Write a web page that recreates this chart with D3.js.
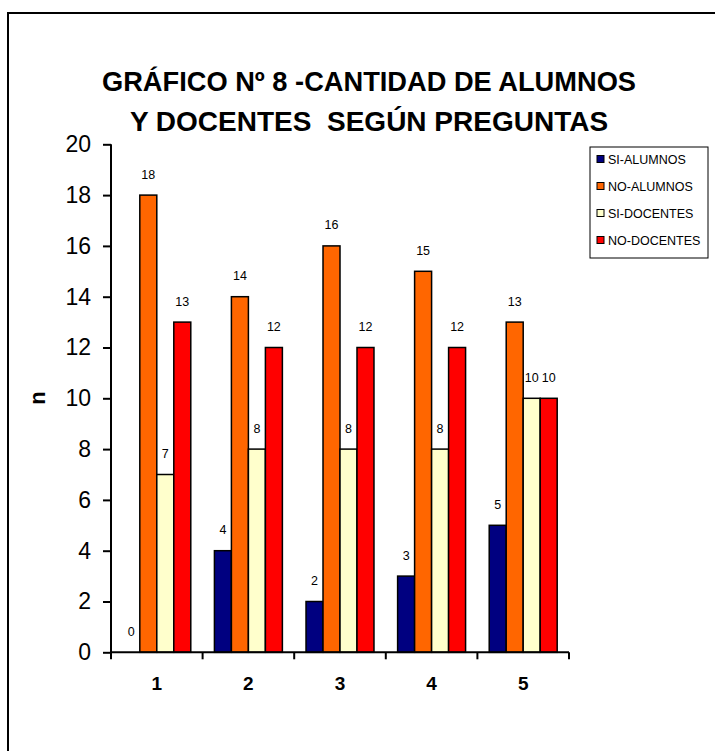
<!DOCTYPE html>
<html><head><meta charset="utf-8">
<script src="https://cdn.jsdelivr.net/npm/d3@7"></script>
<style>body{margin:0;background:#fff;}svg{display:block;font-family:Arial,"Liberation Sans",sans-serif;}</style>
</head><body>
<script>
const categories = ["1","2","3","4","5"];
const seriesNames = ["SI-ALUMNOS","NO-ALUMNOS","SI-DOCENTES","NO-DOCENTES"];
const siAlumnos  = [0,4,2,3,5];
const noAlumnos  = [18,14,16,15,13];
const siDocentes = [7,8,8,8,10];
const noDocentes = [13,12,12,12,10];
const yTicks = [0,2,4,6,8,10,12,14,16,18,20];
const colors = ["#000080","#FF6600","#FFFFCC","#FF0000"];
const titleLines = ["GRÁFICO Nº 8 -CANTIDAD DE ALUMNOS","Y DOCENTES  SEGÚN PREGUNTAS"];
const yLabel = "n";

const seriesValues = [siAlumnos, noAlumnos, siDocentes, noDocentes];
const W=715,H=751;
const svg=d3.select("body").append("svg").attr("width",W).attr("height",H);
svg.append("rect").attr("width",W).attr("height",H).attr("fill","#fff");
// outer frame (only top & left visible)
svg.append("rect").attr("x",8).attr("y",13).attr("width",W+20).attr("height",H+20)
  .attr("fill","none").attr("stroke","#000").attr("stroke-width",2);

const m={left:111,top:144.3,right:569,bottom:652.3};
const x=d3.scaleBand().domain(categories).range([m.left,m.right]).paddingInner(0.258).paddingOuter(0.129);
const xs=d3.scaleBand().domain(seriesNames).range([0,x.bandwidth()]);
const y=d3.scaleLinear().domain([0,20]).range([m.bottom,m.top]);

// title
const tl=svg.append("g").selectAll("text").data(titleLines).join("text")
  .attr("x",369).attr("y",(d,i)=>91+i*40).attr("text-anchor","middle")
  .attr("font-weight","bold").attr("font-size",28).style("white-space","pre").text(d=>d);
tl.filter((d,i)=>i===0).attr("textLength",534).attr("lengthAdjust","spacingAndGlyphs");

// bars
const g=svg.append("g");
seriesNames.forEach((s,si)=>{
  const vals=seriesValues[si];
  g.append("g").selectAll("rect").data(categories).join("rect")
    .attr("x",(c)=>x(c)+xs(s)).attr("width",xs.bandwidth())
    .attr("y",(c,i)=>y(vals[i])).attr("height",(c,i)=>y(0)-y(vals[i]))
    .attr("fill",colors[si]).attr("stroke","#000").attr("stroke-width",1.5)
    .attr("display",(c,i)=>vals[i]===0?"none":null);
  g.append("g").selectAll("text").data(categories).join("text")
    .attr("x",(c)=>x(c)+xs(s)+xs.bandwidth()/2)
    .attr("y",(c,i)=>y(vals[i])-16.5)
    .attr("text-anchor","middle").attr("font-size",12.5).attr("fill","#000")
    .text((c,i)=>vals[i]);
});

// y axis
const ya=svg.append("g").attr("transform",`translate(${m.left},0)`)
  .call(d3.axisLeft(y).tickValues(yTicks).tickSize(8).tickPadding(12));
ya.selectAll("text").attr("font-size",23).attr("font-family","Arial, 'Liberation Sans', sans-serif").attr("fill","#000");
ya.select(".domain").attr("stroke-width",2).attr("d",`M0,${m.bottom}V${m.top}`);
ya.selectAll(".tick line").attr("stroke-width",2);

// x axis
const xa=svg.append("g").attr("transform",`translate(0,${m.bottom})`)
  .call(d3.axisBottom(x).tickSize(0).tickPadding(24));
xa.select(".domain").attr("stroke-width",2).attr("d",`M${m.left},0H${m.right}`);
xa.selectAll("text").attr("font-size",19).attr("font-weight","bold").attr("font-family","Arial, 'Liberation Sans', sans-serif").attr("fill","#000");
const bounds=d3.range(categories.length+1).map(i=>m.left+i*(m.right-m.left)/categories.length);
xa.selectAll("line.sep").data(bounds).join("line").attr("class","sep")
  .attr("x1",d=>d).attr("x2",d=>d).attr("y1",0).attr("y2",7).attr("stroke","#000").attr("stroke-width",2);

// y label
svg.append("text").attr("transform","translate(45,398) rotate(-90)").attr("text-anchor","middle")
  .attr("font-weight","bold").attr("font-size",22).text(yLabel);

// legend
const lg=svg.append("g").attr("transform","translate(590,147)");
lg.append("rect").attr("width",118).attr("height",111).attr("fill","#fff").attr("stroke","#000").attr("stroke-width",1);
seriesNames.forEach((s,i)=>{
  const cy=12+i*27;
  lg.append("rect").attr("x",7).attr("y",cy-3.5).attr("width",7).attr("height",7).attr("fill",colors[i]).attr("stroke","#000").attr("stroke-width",1);
  lg.append("text").attr("x",18).attr("y",cy+4.5).attr("font-size",12.5).text(s);
});
</script>
</body></html>
